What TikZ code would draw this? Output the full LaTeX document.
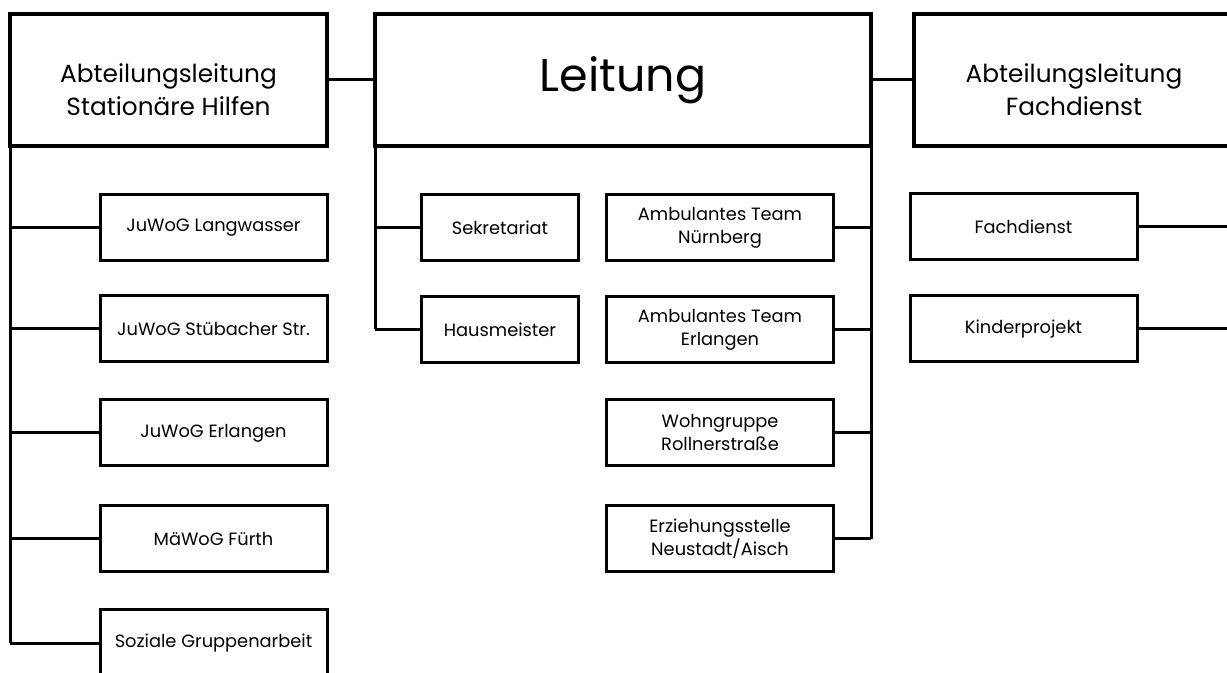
\documentclass[tikz,border=0pt]{standalone}
\usepackage{fontspec}
\setmainfont{Poppins}

\begin{document}
\begin{tikzpicture}[x=0.5pt,y=-0.5pt,
	bigbox/.style={draw,line width=2pt,outer sep=0pt,minimum height=66pt},
	bigtext/.style={font=\fontsize{12.4}{16.5}\selectfont,align=center,yshift=-5pt},
	unit/.style={draw,line width=1.5pt,outer sep=0pt,minimum width=113.5pt,minimum height=33pt,
		align=center,font=\fontsize{8.9}{11.5}\selectfont},
	link/.style={line width=1.5pt}]
		\useasboundingbox (0,0) rectangle (1227,673);
		\clip (0,0) rectangle (1227,673);
		
		% the three boxes on top
		\node[bigbox,minimum width=158.5pt,label={[bigtext]center:{Abteilungsleitung\\Stationäre Hilfen}}] (abtsh) at (168.5,80) {};
		\node[bigbox,minimum width=248pt,font=\fontsize{23}{28}\selectfont] (leitung) at (623,80) {Leitung};
		\node[bigbox,minimum width=160pt,label={[bigtext]center:{Abteilungsleitung\\Fachdienst}}] (abtfd) at (1074,80) {};
		\draw[link] (abtsh.east) -- (leitung.west);
		\draw[link] (leitung.east) -- (abtfd.west);
		
		% stationary units on the left
		\foreach \name/\ypos/\txt in {lw/228/JuWoG Langwasser,sb/329/JuWoG Stübacher Str.,
			er/433/JuWoG Erlangen,mf/539/MäWoG Fürth,sg/643/Soziale Gruppenarbeit} {
			\node[unit] (\name) at (213.5,\ypos) {\txt};
			\draw[link] (abtsh.south west |- \name.west) -- (\name.west);
		}
		\draw[link] (abtsh.south west) -- (abtsh.south west |- sg.west);
		
		% staff under the Leitung
		\foreach \name/\ypos/\txt in {sek/228/Sekretariat,haus/329.5/Hausmeister} {
			\node[unit,minimum width=78.5pt] (\name) at (500,\ypos) {\txt};
			\draw[link] (leitung.south west |- \name.west) -- (\name.west);
		}
		\draw[link] (leitung.south west) -- (leitung.south west |- haus.west);
		
		\foreach \name/\ypos/\txt in {amn/228/{Ambulantes Team\\Nürnberg},ame/329.5/{Ambulantes Team\\Erlangen},
			wg/433/{Wohngruppe\\Rollnerstraße},ez/539/{Erziehungsstelle\\Neustadt/Aisch}} {
			\node[unit] (\name) at (720,\ypos) {\txt};
			\draw[link] (\name.east) -- (leitung.south east |- \name.east);
		}
		\draw[link] (leitung.south east) -- (leitung.south east |- ez.east);
		
		% Fachdienst on the right, its bus runs off the page
		\coordinate (fdbus) at (1245,150);
		\foreach \name/\ypos/\txt in {fd/227/Fachdienst,kp/329/Kinderprojekt} {
			\node[unit] (\name) at (1023.5,\ypos) {\txt};
			\draw[link] (\name.east) -- (fdbus |- \name.east);
		}
\end{tikzpicture}
\end{document}
